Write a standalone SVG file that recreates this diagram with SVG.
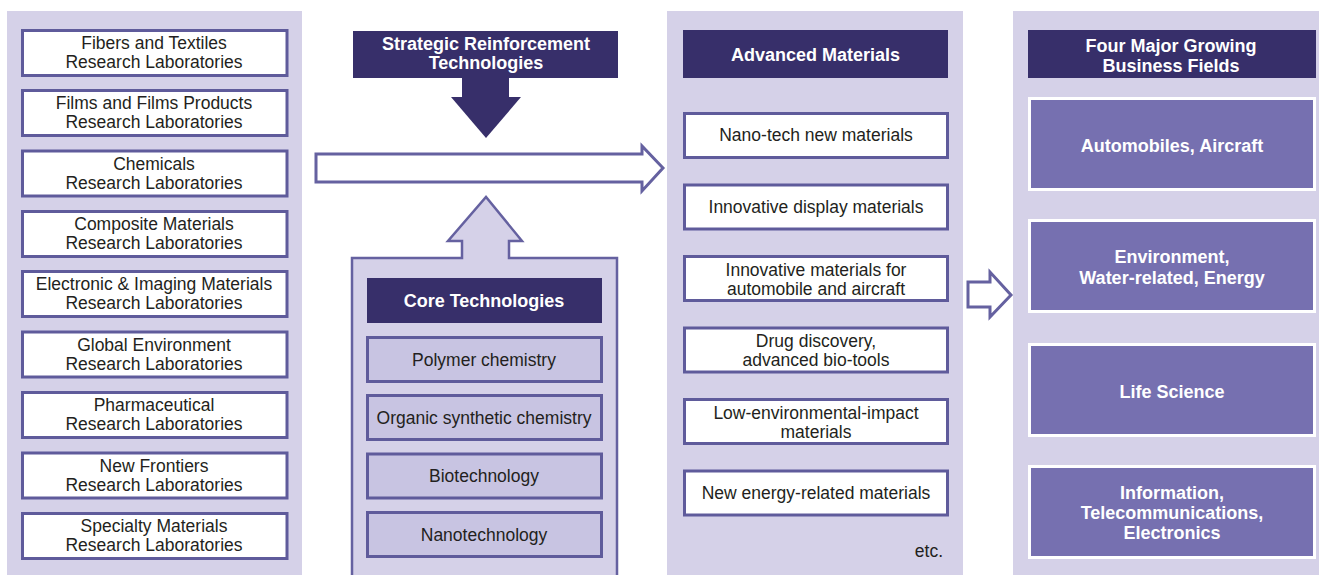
<svg xmlns="http://www.w3.org/2000/svg" width="1319" height="575" viewBox="0 0 1319 575">
<style>
.panel{fill:#d5d1e8}
.hdr{fill:#372f6a}
.wbox{fill:#ffffff;stroke:#5f5b9b;stroke-width:3}
.cbox{fill:#c8c4e2;stroke:#5f5b9b;stroke-width:3}
.fbox{fill:#7670b0;stroke:#ffffff;stroke-width:3}
.out{fill:#ffffff;stroke:#6561a0;stroke-width:3}
.t{font-family:"Liberation Sans",Arial,sans-serif;font-size:17.5px;fill:#231f20;text-anchor:middle}
.b{font-family:"Liberation Sans",Arial,sans-serif;font-size:18px;font-weight:bold;fill:#ffffff;text-anchor:middle}
</style>
<rect class="panel" x="7" y="11" width="295" height="564"/>
<rect class="panel" x="667" y="11" width="296" height="564"/>
<rect class="panel" x="1013" y="11" width="306" height="564"/>

<g id="labs">
<g id="lab1"><rect class="wbox" x="22.5" y="30.5" width="264.5" height="45"/><text class="t" x="154" y="49">Fibers and Textiles</text><text class="t" x="154" y="68">Research Laboratories</text></g>
<g id="lab2"><rect class="wbox" x="22.5" y="90.5" width="264.5" height="45"/><text class="t" x="154" y="109">Films and Films Products</text><text class="t" x="154" y="128">Research Laboratories</text></g>
<g id="lab3"><rect class="wbox" x="22.5" y="151" width="264.5" height="45"/><text class="t" x="154" y="170">Chemicals</text><text class="t" x="154" y="189">Research Laboratories</text></g>
<g id="lab4"><rect class="wbox" x="22.5" y="211.5" width="264.5" height="45"/><text class="t" x="154" y="230">Composite Materials</text><text class="t" x="154" y="249">Research Laboratories</text></g>
<g id="lab5"><rect class="wbox" x="22.5" y="271.5" width="264.5" height="45"/><text class="t" x="154" y="290">Electronic &amp; Imaging Materials</text><text class="t" x="154" y="309">Research Laboratories</text></g>
<g id="lab6"><rect class="wbox" x="22.5" y="332" width="264.5" height="45"/><text class="t" x="154" y="351">Global Environment</text><text class="t" x="154" y="370">Research Laboratories</text></g>
<g id="lab7"><rect class="wbox" x="22.5" y="392.5" width="264.5" height="45"/><text class="t" x="154" y="411">Pharmaceutical</text><text class="t" x="154" y="430">Research Laboratories</text></g>
<g id="lab8"><rect class="wbox" x="22.5" y="453" width="264.5" height="45"/><text class="t" x="154" y="472">New Frontiers</text><text class="t" x="154" y="491">Research Laboratories</text></g>
<g id="lab9"><rect class="wbox" x="22.5" y="513.5" width="264.5" height="45"/><text class="t" x="154" y="532">Specialty Materials</text><text class="t" x="154" y="551">Research Laboratories</text></g>
</g>

<g id="connectors">
<polygon class="out" points="316,154 642,154 642,146 663,168 642,191 642,182 316,182"/>
<rect class="hdr" x="462" y="77" width="47" height="21"/>
<polygon class="hdr" points="451,97 521,97 486,138"/>
<path d="M352,577 L352,258 L462,258 L462,241 L448,241 L486,197 L522,241 L509,241 L509,258 L617,258 L617,577" fill="#d5d1e8" stroke="#6561a0" stroke-width="2.5"/>
<polygon class="out" points="968,282 990,282 990,272 1011,295 990,317 990,307 968,307"/>
</g>

<g id="strategic"><rect class="hdr" x="353" y="31" width="265" height="47"/><text class="b" x="486" y="50">Strategic Reinforcement</text><text class="b" x="486" y="69">Technologies</text></g>

<g id="core">
<g id="core-header"><rect class="hdr" x="367" y="278" width="235" height="45"/><text class="b" x="484" y="307">Core Technologies</text></g>
<g id="core1"><rect class="cbox" x="367.5" y="337.5" width="234" height="44"/><text class="t" x="484" y="366">Polymer chemistry</text></g>
<g id="core2"><rect class="cbox" x="367.5" y="395.5" width="234" height="44"/><text class="t" x="484" y="424">Organic synthetic chemistry</text></g>
<g id="core3"><rect class="cbox" x="367.5" y="454" width="234" height="44"/><text class="t" x="484" y="482">Biotechnology</text></g>
<g id="core4"><rect class="cbox" x="367.5" y="512.5" width="234" height="44"/><text class="t" x="484" y="541">Nanotechnology</text></g>
</g>

<g id="advanced">
<g id="adv-header"><rect class="hdr" x="683" y="30" width="265" height="48"/><text class="b" x="815.5" y="61">Advanced Materials</text></g>
<g id="mat1"><rect class="wbox" x="684.5" y="113.5" width="263" height="44"/><text class="t" x="816" y="141">Nano-tech new materials</text></g>
<g id="mat2"><rect class="wbox" x="684.5" y="185" width="263" height="44"/><text class="t" x="816" y="213">Innovative display materials</text></g>
<g id="mat3"><rect class="wbox" x="684.5" y="256.5" width="263" height="44"/><text class="t" x="816" y="276">Innovative materials for</text><text class="t" x="816" y="295">automobile and aircraft</text></g>
<g id="mat4"><rect class="wbox" x="684.5" y="328" width="263" height="44"/><text class="t" x="816" y="347">Drug discovery,</text><text class="t" x="816" y="366">advanced bio-tools</text></g>
<g id="mat5"><rect class="wbox" x="684.5" y="399.5" width="263" height="44"/><text class="t" x="816" y="419">Low-environmental-impact</text><text class="t" x="816" y="438">materials</text></g>
<g id="mat6"><rect class="wbox" x="684.5" y="471" width="263" height="44"/><text class="t" x="816" y="499">New energy-related materials</text></g>
<text class="t" x="943" y="557" style="text-anchor:end">etc.</text>
</g>

<g id="fields">
<g id="fields-header"><rect class="hdr" x="1028" y="30" width="288" height="48"/><text class="b" x="1171" y="52">Four Major Growing</text><text class="b" x="1171" y="72">Business Fields</text></g>
<g id="field1"><rect class="fbox" x="1029.5" y="98.5" width="285" height="91"/><text class="b" x="1172" y="152">Automobiles, Aircraft</text></g>
<g id="field2"><rect class="fbox" x="1029.5" y="220.5" width="285" height="91"/><text class="b" x="1172" y="263">Environment,</text><text class="b" x="1172" y="284">Water-related, Energy</text></g>
<g id="field3"><rect class="fbox" x="1029.5" y="344.5" width="285" height="91"/><text class="b" x="1172" y="398">Life Science</text></g>
<g id="field4"><rect class="fbox" x="1029.5" y="466.5" width="285" height="91"/><text class="b" x="1172" y="499">Information,</text><text class="b" x="1172" y="519">Telecommunications,</text><text class="b" x="1172" y="539">Electronics</text></g>
</g>
</svg>
